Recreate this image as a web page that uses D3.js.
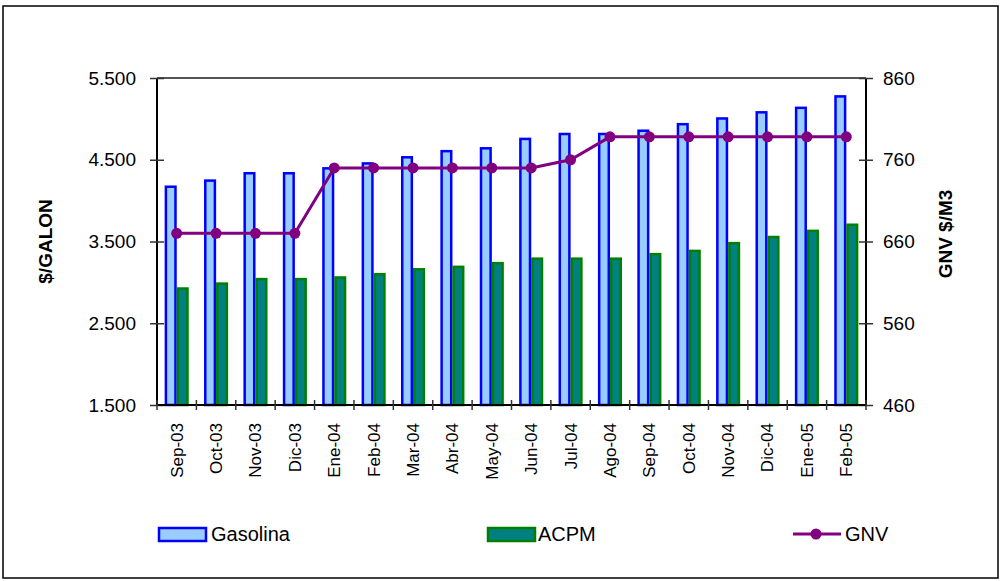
<!DOCTYPE html>
<html>
<head>
<meta charset="utf-8">
<script src="https://cdn.jsdelivr.net/npm/d3@7"></script>
<style>
  body { margin: 0; background: #fff; }
  svg { display: block; font-family: "Liberation Sans", Arial, sans-serif; }
</style>
</head>
<body>
<svg id="chart" width="1002" height="581"></svg>
<script>
var months = ["Sep-03", "Oct-03", "Nov-03", "Dic-03", "Ene-04", "Feb-04", "Mar-04", "Abr-04", "May-04",
  "Jun-04", "Jul-04", "Ago-04", "Sep-04", "Oct-04", "Nov-04", "Dic-04", "Ene-05", "Feb-05"];
var gasolina = [4170, 4245, 4335, 4335, 4395, 4455, 4530, 4605, 4640,
  4755, 4815, 4815, 4855, 4935, 5005, 5080, 5135, 5275];
var acpm = [2925, 2985, 3040, 3040, 3060, 3100, 3160, 3190, 3235,
  3290, 3290, 3290, 3345, 3385, 3480, 3555, 3630, 3705];
var gnv = [670, 670, 670, 670, 750, 750, 750, 750, 750,
  750, 760, 788, 788, 788, 788, 788, 788, 788];
var leftTicks = [1500, 2500, 3500, 4500, 5500];
var rightTicks = [460, 560, 660, 760, 860];

var svg = d3.select("#chart");
var plot = { left: 157, right: 866, top: 78, bottom: 405 };

// outer frame
svg.append("rect")
  .attr("x", 3).attr("y", 6)
  .attr("width", 995).attr("height", 572)
  .attr("fill", "none")
  .attr("stroke", "#000")
  .attr("stroke-width", 1.5);

var x = d3.scaleBand().domain(months).range([plot.left, plot.right]).padding(0);
var xs = d3.scaleBand().domain(["Gasolina", "ACPM"]).range([0, 24]);
var yL = d3.scaleLinear().domain([1500, 5500]).range([plot.bottom, plot.top]);
var yR = d3.scaleLinear().domain([460, 860]).range([plot.bottom, plot.top]);

var loc = d3.formatLocale({ decimal: ",", thousands: ".", grouping: [3], currency: ["$", ""] });
var fmt = loc.format(",.0f");

// top border of plot area
svg.append("line")
  .attr("x1", plot.left).attr("x2", plot.right)
  .attr("y1", plot.top).attr("y2", plot.top)
  .attr("stroke", "#555").attr("stroke-width", 2);

var rows = months.map(function (m, i) {
  return { m: m, g: gasolina[i], a: acpm[i], n: gnv[i] };
});
var off = (x.bandwidth() - 24) / 2;

// Gasolina bars
svg.append("g").selectAll("rect")
  .data(rows)
  .enter()
  .append("rect")
  .attr("x", function (d) { return x(d.m) + off + xs("Gasolina") + 1.2; })
  .attr("y", function (d) { return yL(d.g); })
  .attr("width", xs.bandwidth() - 2.4)
  .attr("height", function (d) { return yL(1500) - yL(d.g); })
  .attr("fill", "#99ccff")
  .attr("stroke", "#0000ff")
  .attr("stroke-width", 2.5);

// ACPM bars
svg.append("g").selectAll("rect")
  .data(rows)
  .enter()
  .append("rect")
  .attr("x", function (d) { return x(d.m) + off + xs("ACPM") + 1.2; })
  .attr("y", function (d) { return yL(d.a); })
  .attr("width", xs.bandwidth() - 2.4)
  .attr("height", function (d) { return yL(1500) - yL(d.a); })
  .attr("fill", "#008080")
  .attr("stroke", "#008000")
  .attr("stroke-width", 2.5);

// GNV line
var line = d3.line()
  .x(function (d) { return x(d.m) + x.bandwidth() / 2; })
  .y(function (d) { return yR(d.n); });
svg.append("path")
  .datum(rows)
  .attr("d", line)
  .attr("fill", "none")
  .attr("stroke", "#800080")
  .attr("stroke-width", 3);
svg.append("g").selectAll("circle")
  .data(rows)
  .enter()
  .append("circle")
  .attr("cx", function (d) { return x(d.m) + x.bandwidth() / 2; })
  .attr("cy", function (d) { return yR(d.n); })
  .attr("r", 5.5)
  .attr("fill", "#800080");

// left axis
var gl = svg.append("g")
  .attr("transform", "translate(" + plot.left + ",0)")
  .call(d3.axisLeft(yL).tickValues(leftTicks).tickFormat(fmt).tickSize(7).tickPadding(14));
gl.select(".domain").attr("stroke", "#000").attr("stroke-width", 2).attr("d", "M0," + plot.top + "V" + plot.bottom);
gl.selectAll(".tick line").attr("x1", 7).attr("x2", -7).attr("stroke", "#333").attr("stroke-width", 1.5);
gl.selectAll(".tick text").attr("font-size", "19px").attr("fill", "#000")
  .attr("font-family", "Liberation Sans, Arial, sans-serif");

// right axis
var gr = svg.append("g")
  .attr("transform", "translate(" + plot.right + ",0)")
  .call(d3.axisRight(yR).tickValues(rightTicks).tickSize(7).tickPadding(10));
gr.select(".domain").attr("stroke", "#000").attr("stroke-width", 2).attr("d", "M0," + plot.top + "V" + plot.bottom);
gr.selectAll(".tick line").attr("x1", -7).attr("x2", 7).attr("stroke", "#333").attr("stroke-width", 1.5);
gr.selectAll(".tick text").attr("font-size", "19px").attr("fill", "#000")
  .attr("font-family", "Liberation Sans, Arial, sans-serif");

// bottom axis
var gb = svg.append("g")
  .attr("transform", "translate(0," + plot.bottom + ")")
  .call(d3.axisBottom(x).tickSize(0).tickPadding(18));
gb.select(".domain").attr("stroke", "#000").attr("stroke-width", 2).attr("d", "M" + plot.left + ",0H" + plot.right);
gb.selectAll(".tick text")
  .attr("font-size", "17px")
  .attr("fill", "#000")
  .attr("font-family", "Liberation Sans, Arial, sans-serif")
  .attr("transform", "rotate(-90)")
  .attr("text-anchor", "end")
  .attr("x", -18)
  .attr("y", 0)
  .attr("dy", "0.35em");
var bounds = months.map(function (m) { return x(m); }).concat([plot.right]);
gb.selectAll(".sep")
  .data(bounds)
  .enter()
  .append("line")
  .attr("x1", function (d) { return d; })
  .attr("x2", function (d) { return d; })
  .attr("y1", -5)
  .attr("y2", 5)
  .attr("stroke", "#333")
  .attr("stroke-width", 1.5);

// axis titles
svg.append("text")
  .attr("transform", "translate(45," + (plot.top + plot.bottom) / 2 + ") rotate(-90)")
  .attr("text-anchor", "middle")
  .attr("dy", "0.35em")
  .attr("font-size", "19px")
  .attr("font-weight", "bold")
  .text("$/GALON");
svg.append("text")
  .attr("transform", "translate(945,234) rotate(-90)")
  .attr("text-anchor", "middle")
  .attr("dy", "0.35em")
  .attr("font-size", "19px")
  .attr("font-weight", "bold")
  .text("GNV $/M3");

// legend
var ly = 534;
svg.append("rect").attr("x", 159).attr("y", ly - 6).attr("width", 47).attr("height", 13)
  .attr("fill", "#99ccff").attr("stroke", "#0000ff").attr("stroke-width", 2.5);
svg.append("text").attr("x", 211).attr("y", ly).attr("dy", "0.35em").attr("font-size", "20px").text("Gasolina");
svg.append("rect").attr("x", 488).attr("y", ly - 6).attr("width", 47).attr("height", 13)
  .attr("fill", "#008080").attr("stroke", "#008000").attr("stroke-width", 2.5);
svg.append("text").attr("x", 538).attr("y", ly).attr("dy", "0.35em").attr("font-size", "20px").text("ACPM");
svg.append("line").attr("x1", 793).attr("x2", 841).attr("y1", ly).attr("y2", ly)
  .attr("stroke", "#800080").attr("stroke-width", 3);
svg.append("circle").attr("cx", 816).attr("cy", ly).attr("r", 5.5).attr("fill", "#800080");
svg.append("text").attr("x", 845).attr("y", ly).attr("dy", "0.35em").attr("font-size", "20px").text("GNV");
</script>
</body>
</html>
